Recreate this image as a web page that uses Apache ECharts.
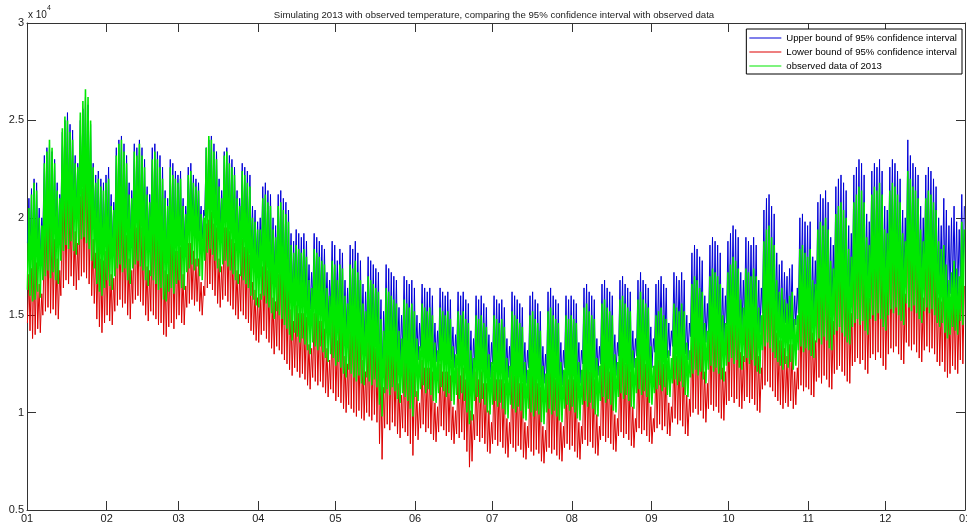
<!DOCTYPE html>
<html>
<head>
<meta charset="utf-8">
<script src="https://cdn.jsdelivr.net/npm/echarts@6/dist/echarts.min.js"></script>
<style>
    html, body { margin: 0; padding: 0; background: #fff; }
    #main { width: 967px; height: 524px; }
</style>
</head>
<body>
<div id="main"></div>
<script>
// daily trough / peak of each curve, 2013, one row per month
// values in units of 100 (230 -> 2.30 x 10^4)
var upperPeak = [
    210,215,220,218,205,200,232,236,238,234,230,218,212,244,250,254,248,245,232,228,250,256,262,258,248,228,222,224,220,218,222,
    226,212,208,236,240,242,238,232,218,214,238,236,240,236,230,216,212,236,238,234,232,226,214,210,230,228,224,222,
    224,210,206,226,228,222,220,218,206,204,236,240,242,238,234,220,214,234,236,232,230,226,214,210,228,226,224,222,206,204,198,
    200,216,218,214,212,200,196,212,214,210,208,204,192,188,194,192,190,192,188,176,172,192,190,188,186,184,172,168,188,186,
    178,184,182,168,164,186,184,188,182,178,166,162,180,178,176,174,172,158,152,176,174,172,170,168,154,150,170,168,166,168,164,
    150,146,166,164,162,164,160,146,142,164,162,160,162,158,144,140,162,160,162,158,156,142,138,160,158,160,156,154,140,136,
    160,158,156,158,154,138,134,162,160,158,156,154,136,132,160,162,158,156,152,134,130,162,164,160,158,156,136,132,160,158,160,
    158,156,136,132,164,166,162,160,158,138,134,166,168,164,162,160,140,136,168,170,166,164,162,142,138,168,172,168,166,164,144,
    138,166,168,170,166,164,146,142,172,170,168,172,168,150,146,182,186,184,180,178,160,156,186,190,188,186,182,164,160,188,
    192,196,194,190,172,168,190,188,186,190,186,168,164,204,210,212,206,202,182,176,178,172,170,174,176,160,164,200,202,198,196,
    198,180,178,208,212,210,214,208,190,186,216,220,222,218,214,196,192,222,226,230,228,222,202,198,224,228,226,230,224,206,
    204,226,230,228,224,220,204,200,240,232,228,226,222,206,200,222,226,224,220,216,200,196,210,204,196,200,206,198,194,212,206
];
var upperTrough = [
    187,181,179,182,182,180,191,193,193,190,194,189,188,199,205,207,207,209,204,204,209,210,213,208,207,199,197,188,185,182,186,
    191,186,184,193,194,199,195,195,191,187,197,197,201,196,196,189,188,193,189,189,186,185,181,178,185,185,184,187,
    191,186,186,193,197,197,196,196,193,189,201,203,207,202,201,195,195,197,201,196,196,192,191,187,193,189,189,185,183,179,178,
    177,179,183,177,177,172,171,173,173,169,168,164,163,158,164,160,159,159,158,153,153,157,157,153,157,152,151,147,153,149,
    147,147,146,141,141,143,143,139,139,140,138,135,141,137,137,138,136,124,117,131,135,130,136,132,130,126,133,129,129,123,119,
    127,127,133,133,131,131,130,125,126,129,134,130,129,129,127,123,130,126,131,125,121,112,116,125,129,124,128,123,121,118,
    125,125,124,124,123,118,118,123,123,119,124,120,118,115,123,119,119,120,120,114,115,119,123,118,122,117,117,114,123,123,122,
    124,119,118,115,125,125,124,124,123,118,119,125,129,124,128,123,122,119,129,129,128,128,127,122,123,129,133,128,132,127,126,
    123,131,131,135,130,134,128,129,134,138,133,137,132,130,127,139,139,143,138,142,136,136,141,145,140,144,139,138,135,145,
    147,147,146,146,144,141,147,147,146,146,145,140,141,151,155,155,154,150,149,145,145,141,146,142,147,141,145,151,155,150,154,
    153,148,149,155,159,154,160,156,154,151,161,161,165,160,160,155,156,163,167,167,166,166,163,159,169,169,168,170,169,163,
    163,171,172,172,173,171,166,166,175,175,171,176,170,169,165,173,173,172,172,171,165,165,165,162,157,161,163,163,159,168,164
];
var lowerPeak = [
    171,174,181,177,166,161,191,197,197,195,189,179,173,205,209,215,207,206,193,187,211,215,223,217,209,189,182,185,179,178,183,
    187,171,169,195,201,201,199,191,179,173,199,195,201,195,191,175,173,197,197,195,191,187,173,171,189,189,183,183,
    185,171,165,187,187,183,179,179,167,165,197,199,203,197,195,179,175,195,195,193,189,187,173,171,189,185,185,181,167,163,159,
    161,175,179,173,173,159,157,171,175,169,169,163,153,147,155,151,151,151,149,135,133,151,151,147,147,143,133,127,149,145,
    137,145,141,129,125,147,143,149,141,139,127,121,141,137,137,133,133,119,113,137,133,133,129,129,115,109,131,127,127,129,123,
    111,105,127,123,123,123,121,105,103,125,121,121,121,119,103,101,123,119,123,117,117,101,99,121,117,121,115,115,101,95,
    121,117,117,117,115,97,95,123,119,119,115,115,95,93,121,121,119,115,113,93,91,123,123,121,117,117,95,93,121,117,121,
    117,117,95,93,123,127,121,121,117,99,93,127,127,125,121,121,99,97,127,131,125,125,121,103,97,129,131,129,125,125,103,
    97,127,127,131,125,125,105,103,133,129,129,131,129,109,107,143,145,145,139,139,121,115,147,149,149,145,143,123,121,147,
    151,157,153,151,131,129,149,149,145,151,145,129,123,165,169,173,165,163,141,137,137,133,129,135,135,121,123,161,161,159,155,
    157,141,137,169,171,171,173,169,149,147,175,181,181,179,173,157,151,183,185,191,187,183,161,159,183,189,185,191,183,167,
    163,187,189,189,183,181,163,161,201,191,189,185,183,165,159,183,185,185,179,177,159,157,171,163,157,161,165,159,155,173,165
];
var lowerTrough = [
    146,142,138,140,143,141,150,152,154,151,153,150,148,160,164,168,166,170,165,163,168,170,172,169,166,160,156,148,144,141,146,
    150,147,145,152,155,158,154,156,150,148,156,158,160,157,155,150,147,152,150,148,145,146,140,139,144,146,143,148,
    150,146,145,154,156,158,155,157,152,150,160,164,166,163,160,156,154,158,160,157,155,153,150,148,152,150,148,146,142,140,137,
    136,140,142,138,136,133,130,134,132,130,127,125,122,119,123,121,118,120,117,114,112,118,116,114,116,113,110,108,112,110,
    106,108,105,102,100,104,102,100,98,101,97,96,100,98,96,99,95,84,76,92,94,91,95,93,89,87,92,90,88,84,78,
    88,86,92,94,90,92,89,86,85,90,93,91,88,90,86,84,89,87,90,86,80,72,75,86,88,85,87,84,80,79,
    84,86,83,85,82,79,77,84,82,80,83,81,77,76,82,80,78,81,79,75,74,80,82,79,81,78,76,75,82,84,81,
    83,80,77,76,84,86,83,85,82,79,78,86,88,85,87,84,81,80,88,90,87,89,86,83,82,90,92,89,91,88,85,
    84,90,92,94,91,93,89,88,95,97,94,96,93,89,88,98,100,102,99,101,97,95,102,104,101,103,100,97,96,104,
    106,108,105,107,103,102,106,108,105,107,104,101,100,112,114,116,113,111,108,106,104,102,105,103,106,102,104,112,114,111,113,
    112,109,108,116,118,115,119,117,113,112,120,122,124,121,119,116,115,124,126,128,125,127,122,120,128,130,127,131,128,124,
    122,130,133,131,134,130,127,125,136,134,132,135,131,128,126,132,134,131,133,130,126,124,126,121,118,120,124,122,120,127,125
];
var observedPeak = [
    205,212,218,214,200,196,228,234,240,236,228,214,210,246,252,250,244,240,228,226,254,260,266,262,250,226,218,220,216,214,218,
    220,206,204,232,238,240,234,228,212,210,234,232,238,232,226,212,208,230,234,230,226,220,210,206,226,222,220,218,
    220,206,202,222,224,218,216,214,202,200,236,242,240,234,230,216,210,232,234,228,226,222,210,206,224,222,218,216,200,198,194,
    194,210,212,208,206,194,190,206,208,204,202,198,186,182,186,184,182,184,180,168,164,184,182,180,178,176,164,160,178,176,
    168,176,174,160,156,176,174,178,172,168,156,152,170,168,166,164,162,148,142,164,162,160,158,156,142,138,158,156,154,156,152,
    138,134,156,154,152,154,150,136,132,154,152,150,152,148,134,130,152,150,152,148,146,132,128,150,148,150,146,144,130,126,
    150,148,146,148,144,128,124,152,150,148,146,144,126,122,150,152,148,146,142,124,120,152,154,150,148,146,126,122,150,148,150,
    148,146,126,122,154,156,152,150,148,128,124,156,158,154,152,150,130,126,158,160,156,154,152,132,128,158,162,158,156,154,134,
    124,150,152,154,150,148,132,128,156,154,152,156,152,136,132,166,170,168,164,162,146,142,170,174,172,170,166,150,146,172,
    176,180,178,174,158,154,174,172,170,174,170,154,150,188,194,196,190,186,168,162,164,158,156,160,162,148,150,184,186,182,180,
    184,168,166,194,198,196,200,194,178,174,202,206,208,204,200,184,180,208,212,216,214,208,190,186,212,216,214,218,212,194,
    192,214,218,216,212,208,192,188,224,220,216,214,210,194,188,210,214,212,208,204,188,184,186,176,168,172,178,174,170,198,194
];
var observedTrough = [
    163,160,157,158,162,159,168,170,173,169,172,168,166,178,183,186,184,188,183,181,186,189,190,187,184,178,174,166,162,160,164,
    168,165,163,170,174,176,172,174,168,166,174,176,178,175,173,168,165,170,168,166,163,164,158,157,162,164,161,166,
    168,164,163,172,174,176,173,175,170,168,178,182,184,181,178,174,172,176,178,175,173,171,168,166,170,168,166,164,160,158,155,
    154,158,160,156,154,151,148,152,150,148,145,143,140,137,141,139,136,138,135,132,130,136,134,132,134,131,128,126,130,128,
    124,126,123,120,118,122,120,118,116,119,115,114,118,116,114,117,113,104,98,110,112,109,113,111,107,105,110,108,106,102,98,
    108,106,112,114,110,112,109,106,105,110,113,111,108,110,106,104,109,107,110,106,100,94,96,106,108,105,107,104,100,99,
    104,106,103,105,102,99,97,104,102,100,103,101,97,96,102,100,98,101,99,95,94,100,102,99,101,98,96,95,102,104,101,
    103,100,97,96,104,106,103,105,102,99,98,106,108,105,107,104,101,100,108,110,107,109,106,103,102,110,112,109,111,108,105,
    104,110,112,114,111,113,109,108,115,117,114,116,113,109,108,118,120,122,119,121,117,115,122,124,121,123,120,117,116,124,
    126,128,125,127,123,122,126,128,125,127,124,121,120,132,134,136,133,131,128,126,124,122,125,123,126,122,124,132,134,131,133,
    132,129,128,136,138,135,139,137,133,132,140,142,144,141,139,136,135,144,146,148,145,147,142,140,148,150,147,151,148,144,
    142,150,153,151,154,150,147,145,156,154,152,155,151,148,146,152,154,151,153,150,146,144,146,141,138,140,144,142,140,147,145
];

// first day of each month (day of year) and its label
var monthTicks = [0, 31, 59, 90, 120, 151, 181, 212, 243, 273, 304, 334, 365];
var monthLabels = ['01','02','03','04','05','06','07','08','09','10','11','12','01'];
var yTicks = [0.5, 1, 1.5, 2, 2.5, 3];

var CHART = {
    font: '"Liberation Sans", Arial, sans-serif',
    axis_color: '#333',
    init: function(){
        var _this = this;
        var myChart = echarts.init(document.getElementById('main'));
        myChart.setOption(_this.init_option());
    },
    // trough in the early morning, peak in the evening of each day
    build_points: function(trough, peak){
        var pts = [];
        for (var d = 0; d < trough.length; d++) {
            pts.push([d + 0.17, trough[d] / 100]);
            pts.push([d + 0.75, peak[d] / 100]);
        }
        return pts;
    },
    x_axis: function(position, showLabel){
        var _this = this;
        return {
            type: 'value',
            position: position,
            min: 0,
            max: 365,
            axisLine: {show: true, onZero: false, lineStyle: {color: _this.axis_color, width: 1}},
            axisTick: {show: true, inside: true, length: 9, customValues: monthTicks, lineStyle: {color: _this.axis_color}},
            axisLabel: {
                show: showLabel,
                customValues: monthTicks,
                margin: 3,
                fontSize: 11,
                fontFamily: _this.font,
                color: '#222',
                formatter: function(v){ return monthLabels[monthTicks.indexOf(v)]; }
            },
            splitLine: {show: false}
        };
    },
    y_axis: function(position, showLabel){
        var _this = this;
        return {
            type: 'value',
            position: position,
            min: yTicks[0],
            max: yTicks[yTicks.length - 1],
            interval: 0.5,
            axisLine: {show: true, onZero: false, lineStyle: {color: _this.axis_color, width: 1}},
            axisTick: {show: true, inside: true, length: 9, lineStyle: {color: _this.axis_color}},
            axisLabel: {show: showLabel, margin: 3, fontSize: 11, fontFamily: _this.font, color: '#222'},
            splitLine: {show: false}
        };
    },
    line_series: function(name, color, width, trough, peak){
        return {
            name: name,
            type: 'line',
            symbol: 'none',
            showSymbol: false,
            sampling: null,
            lineStyle: {width: width, color: color},
            itemStyle: {color: color},
            data: this.build_points(trough, peak)
        };
    },
    init_option: function(){
        var _this = this;
        return {
            animation: false,
            backgroundColor: '#fff',
            title: {
                text: 'Simulating 2013 with observed temperature, comparing the 95% confidence interval with observed data',
                left: 489,
                textAlign: 'center',
                top: 5,
                textStyle: {fontSize: 9.65, fontWeight: 'normal', color: '#222', fontFamily: _this.font}
            },
            graphic: [
                {type: 'text', left: 28, top: 10, style: {text: 'x 10', fontSize: 10, fill: '#222', fontFamily: _this.font}},
                {type: 'text', left: 47, top: 5, style: {text: '4', fontSize: 7, fill: '#222', fontFamily: _this.font}}
            ],
            legend: {
                orient: 'vertical',
                right: 5,
                top: 29,
                align: 'left',
                icon: 'rect',
                padding: [4, 5, 3, 3],
                itemGap: 4,
                itemWidth: 32,
                itemHeight: 1,
                borderColor: '#000',
                borderWidth: 1,
                borderRadius: 0,
                backgroundColor: '#fff',
                textStyle: {fontSize: 9.6, lineHeight: 10, color: '#000', fontFamily: _this.font},
                data: ['Upper bound of 95% confidence interval', 'Lower bound of 95% confidence interval', 'observed data of 2013']
            },
            grid: {left: 27, right: 2, top: 23, bottom: 14, containLabel: false, outerBoundsMode: 'none'},
            xAxis: [_this.x_axis('bottom', true), _this.x_axis('top', false)],
            yAxis: [_this.y_axis('left', true), _this.y_axis('right', false)],
            series: [
                _this.line_series('Upper bound of 95% confidence interval', '#0000d8', 1, upperTrough, upperPeak),
                _this.line_series('Lower bound of 95% confidence interval', '#dd0000', 1, lowerTrough, lowerPeak),
                _this.line_series('observed data of 2013', '#00e800', 1.6, observedTrough, observedPeak)
            ]
        };
    }
};

CHART.init();
</script>
</body>
</html>
